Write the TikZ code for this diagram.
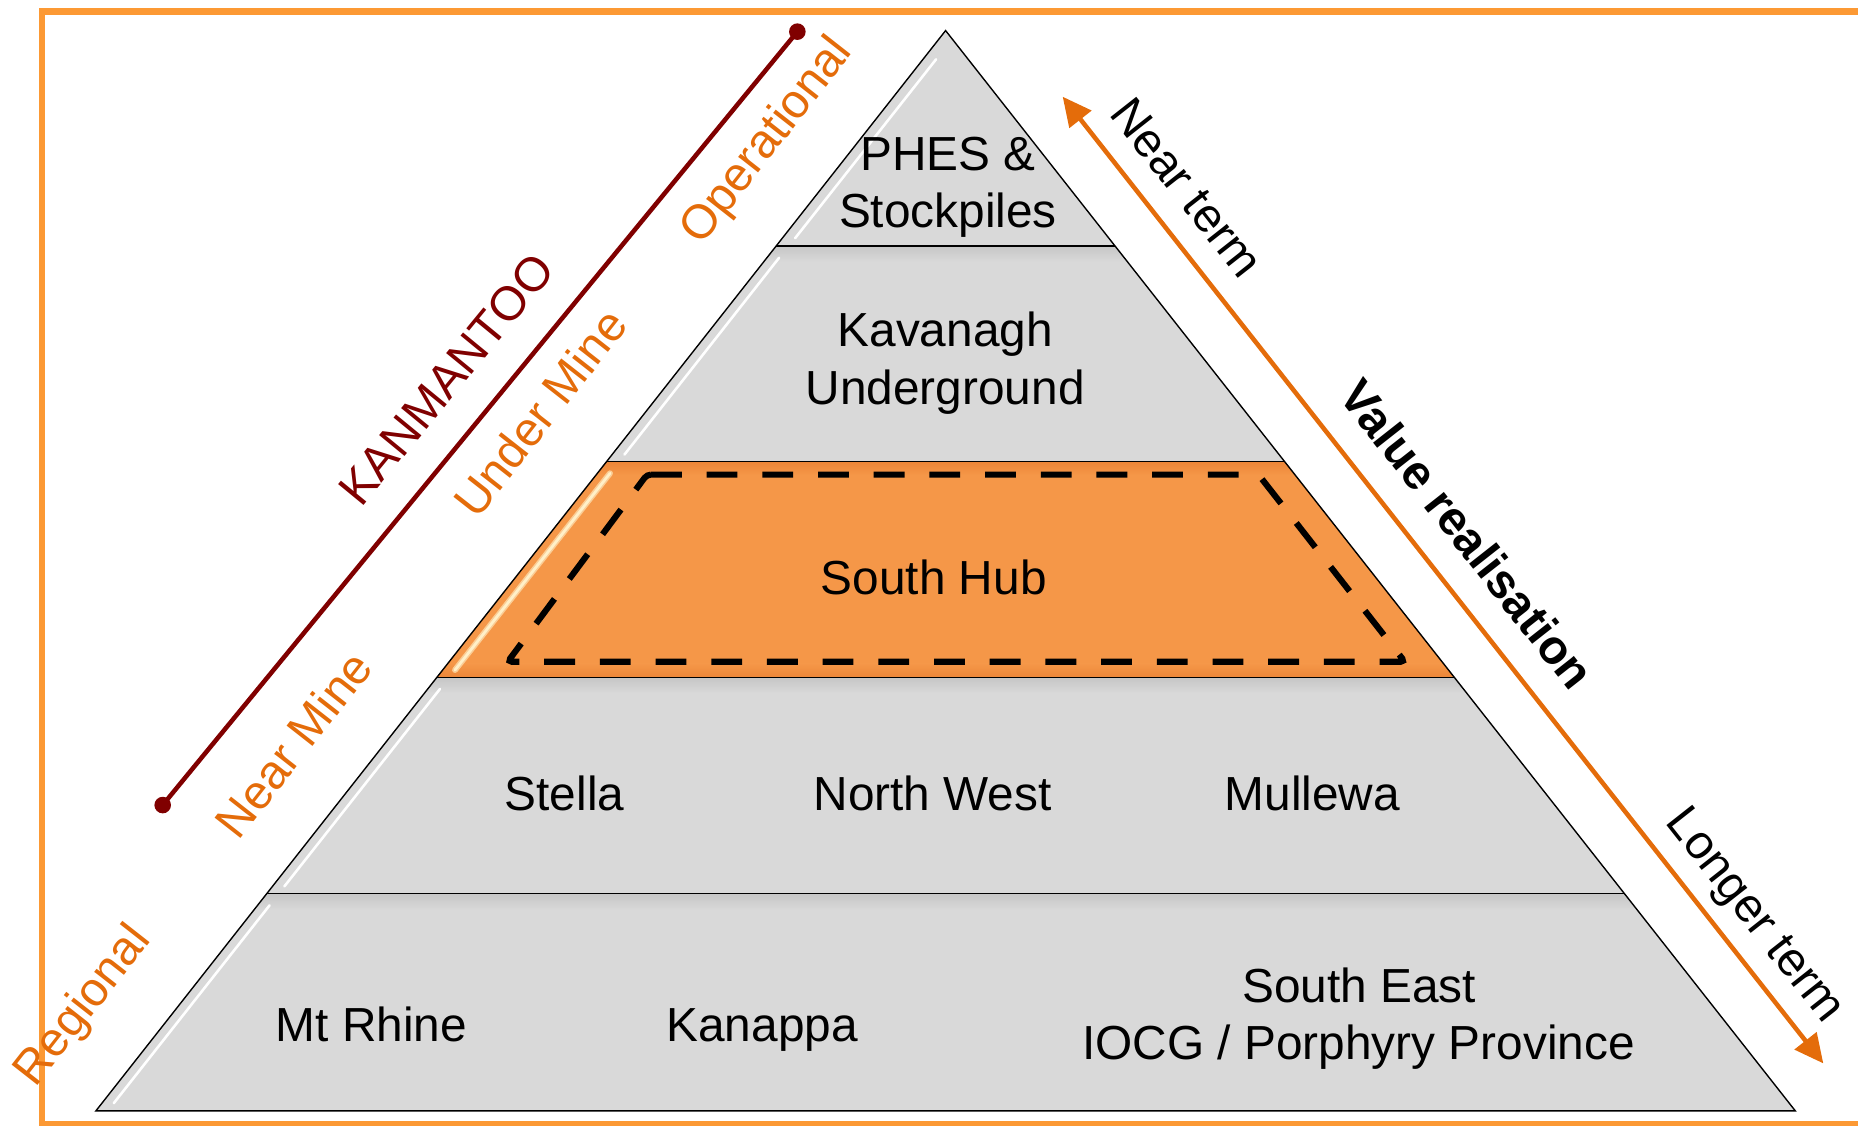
\documentclass[tikz,border=0pt]{standalone}
\usepackage{fontspec}
\setmainfont{Liberation Sans}
\usetikzlibrary{arrows.meta}

\definecolor{frameorange}{RGB}{252,153,52}
\definecolor{tiergray}{RGB}{217,217,217}
\definecolor{tiershade}{RGB}{198,198,198}
\definecolor{hubfill}{RGB}{245,151,72}
\definecolor{hubshade}{RGB}{236,134,56}
\definecolor{hubglint}{RGB}{255,240,200}
\definecolor{labelorange}{RGB}{228,108,10}
\definecolor{kanmaroon}{RGB}{128,0,0}

\newcommand{\labelfont}{\fontsize{24.2pt}{29pt}\selectfont}

\begin{document}
\begin{tikzpicture}[x=0.6pt,y=-0.6pt,
  tieredge/.style={draw=black,line width=0.7pt,line join=miter},
  tiertext/.style={font=\labelfont,anchor=base,inner sep=0pt},
  sidelabel/.style={font=\labelfont,anchor=base,inner sep=0pt,text=labelorange,rotate=51.9},
  termlabel/.style={font=\labelfont,anchor=base,inner sep=0pt,rotate=-51.8},
  glint/.style={white,line width=1.3pt,line cap=round},
  hubbox/.style={draw=black,line width=3.1pt,dash pattern=on 15.6pt off 12.6pt,rounded corners=2pt},
  enddot/.style={circle,fill=kanmaroon,inner sep=0pt,minimum size=8.4pt},
  valtip/.tip={Triangle[length=14.6pt,width=13.8pt]}
]
\useasboundingbox (0,0) rectangle (1568,950);

% outer frame (open to the right)
\draw[frameorange,line width=3.4pt] (1700,9.7) -- (35.5,9.7) -- (35.5,949) -- (1700,949);

% pyramid corners
\coordinate (t0) at (798,25.8);
\coordinate (l1) at (655.1,207.5);  \coordinate (r1) at (940.9,207.5);
\coordinate (l2) at (511.8,389.6);  \coordinate (r2) at (1084.2,389.6);
\coordinate (l3) at (368.7,571.6);  \coordinate (r3) at (1227.3,571.6);
\coordinate (l4) at (225.2,754);    \coordinate (r4) at (1370.8,754);
\coordinate (l5) at (80.9,937.5);   \coordinate (r5) at (1515.1,937.5);

% tier fills
\fill[tiergray] (t0) -- (r1) -- (l1) -- cycle;
\fill[tiergray] (l1) -- (r1) -- (r2) -- (l2) -- cycle;
\fill[hubfill]  (l2) -- (r2) -- (r3) -- (l3) -- cycle;
\fill[tiergray] (l3) -- (r3) -- (r4) -- (l4) -- cycle;
\fill[tiergray] (l4) -- (r4) -- (r5) -- (l5) -- cycle;

% soft shadow under each tier boundary
\begin{scope}
  \clip (l1) -- (r1) -- (r2) -- (l2) -- cycle;
  \shade[top color=tiershade,bottom color=tiergray] (0,207.5) rectangle (1600,221);
\end{scope}
\begin{scope}
  \clip (l2) -- (r2) -- (r3) -- (l3) -- cycle;
  \shade[top color=hubshade,bottom color=hubfill] (0,389.6) rectangle (1600,401);
  \shade[top color=hubfill,bottom color=hubshade] (0,560) rectangle (1600,571.6);
\end{scope}
\begin{scope}
  \clip (l3) -- (r3) -- (r4) -- (l4) -- cycle;
  \shade[top color=tiershade,bottom color=tiergray] (0,571.6) rectangle (1600,585);
\end{scope}
\begin{scope}
  \clip (l4) -- (r4) -- (r5) -- (l5) -- cycle;
  \shade[top color=tiershade,bottom color=tiergray] (0,754) rectangle (1600,768);
\end{scope}

% bevel glints along the left edges
\draw[glint] (790,50) -- (671,201);
\draw[glint] (657.5,217.5) -- (527,383.6);
\draw[hubglint!60!hubfill,line width=3pt,line cap=round] (514.8,399.4) -- (384,565.4);
\draw[hubglint,line width=1.4pt,line cap=round] (514.8,399.4) -- (384,565.4);
\draw[glint] (371.3,581.4) -- (240,748);
\draw[glint] (227.5,764) -- (96,931);

% tier outlines
\draw[tieredge] (t0) -- (r5) -- (l5) -- cycle;
\draw[tieredge] (l1) -- (r1);
\draw[tieredge] (l2) -- (r2);
\draw[tieredge] (l3) -- (r3);
\draw[tieredge] (l4) -- (r4);

% dashed outline around South Hub
\coordinate (h1) at (546,400.5);
\coordinate (h2) at (1062,400.5);
\coordinate (h3) at (1185.5,558.4);
\coordinate (h4) at (428.5,558.4);
\draw[hubbox] (h1) -- (h2) -- (h3) -- (h4) -- cycle;

% tier labels
\node[tiertext] (phes)   at (800,144)      {PHES \&};
\node[tiertext] (stock)  at (800,192)      {Stockpiles};
\node[tiertext] (kav)    at (797.7,292.5)  {Kavanagh};
\node[tiertext] (ug)     at (797.7,341)    {Underground};
\node[tiertext] (hub)    at (788,501.5)    {South Hub};
\node[tiertext] (stella) at (476.4,684.2)  {Stella};
\node[tiertext] (nw)     at (787,684.2)    {North West};
\node[tiertext] (mull)   at (1107.5,684.2) {Mullewa};
\node[tiertext] (rhine)  at (313.5,879)    {Mt Rhine};
\node[tiertext] (kan)    at (643.2,879)    {Kanappa};
\node[tiertext] (se)     at (1147,846.2)   {South East};
\node[tiertext] (iocg)   at (1146.5,894.3) {IOCG / Porphyry Province};

% stage labels on the left
\node[sidelabel] (oper)     at (656,126) {Operational};
\node[sidelabel] (under)    at (467,357) {Under Mine};
\node[sidelabel] (nearmine) at (259,637) {Near Mine};
\node[sidelabel] (regional) at (79,856)  {Regional};

% Kanmantoo bracket line
\node[enddot] (ktop) at (672.9,26.7) {};
\node[enddot] (kbot) at (137.3,679.4) {};
\draw[kanmaroon,line width=2.3pt] (kbot.center) -- (ktop.center);
\node[font=\labelfont,anchor=base,inner sep=0pt,text=kanmaroon,rotate=50.6] (kanm) at (387.5,329) {KANMANTOO};

% value realisation arrow
\coordinate (vtop) at (896.8,81.6);
\coordinate (vbot) at (1538.7,897.4);
\draw[labelorange,line width=2.3pt,valtip-valtip] (vtop) -- (vbot);
\node[termlabel] (nearterm) at (991,166.7) {Near term};
\node[termlabel,font=\labelfont\bfseries] (value) at (1227,459.7) {Value realisation};
\node[termlabel] (longer) at (1472,779.7) {Longer term};
\end{tikzpicture}
\end{document}
